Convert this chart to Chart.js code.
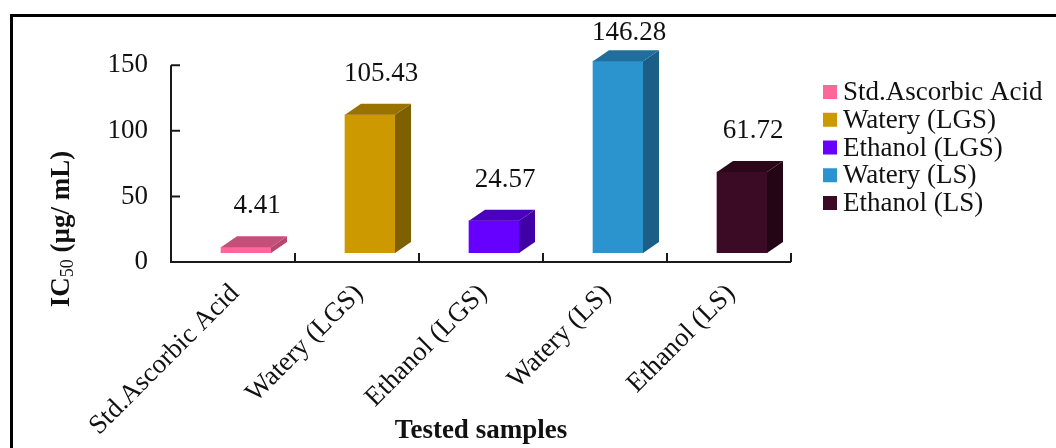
<!DOCTYPE html>
<html><head><meta charset="utf-8">
<script src="https://cdn.jsdelivr.net/npm/chart.js@4.4.0/dist/chart.umd.min.js"></script>
<style>html,body{margin:0;padding:0;background:#fff}#wrap{width:1056px;height:448px}</style>
</head><body><div id="wrap"><canvas id="c" width="1056" height="448"></canvas></div>
<script>
const categories = ['Std.Ascorbic Acid', 'Watery (LGS)', 'Ethanol (LGS)', 'Watery (LS)', 'Ethanol (LS)'];
const ic50Values = [4.41, 105.43, 24.57, 146.28, 61.72];
const yTickValues = [0, 50, 100, 150];
const frontColors = ['#FF6699', '#CC9900', '#6600FF', '#2B94CF', '#3B0A25'];
const sideColors  = ['#B8476E', '#7F6000', '#4000A6', '#1B5F86', '#240515'];
const topColors   = ['#C4507A', '#9A7200', '#4A00BC', '#1F6E9C', '#2C0719'];
const xTitle = 'Tested samples';
const serif = "'Liberation Serif', 'Times New Roman', serif";

const DX = 16, DY = 11, SHIFT_X = 13, SHIFT_Y = -9;

const frame = {
  id: 'frame',
  beforeDraw(chart) {
    const ctx = chart.ctx;
    ctx.save();
    ctx.fillStyle = '#fff';
    ctx.fillRect(0, 0, chart.width, chart.height);
    ctx.strokeStyle = '#000';
    ctx.lineWidth = 3;
    ctx.strokeRect(11.5, 15.5, 1200, 600);
    ctx.restore();
  }
};

const bars3d = {
  id: 'bars3d',
  beforeDatasetsDraw(chart) {
    chart.ctx.save();
    chart.ctx.translate(SHIFT_X, SHIFT_Y);
  },
  afterDatasetsDraw(chart) {
    const ctx = chart.ctx;
    const meta = chart.getDatasetMeta(0);
    meta.data.forEach((bar, i) => {
      const l = bar.x - bar.width / 2, r = bar.x + bar.width / 2;
      const t = bar.y, b = bar.base;
      ctx.fillStyle = sideColors[i];
      ctx.beginPath();
      ctx.moveTo(r, t); ctx.lineTo(r + DX, t - DY); ctx.lineTo(r + DX, b - DY); ctx.lineTo(r, b);
      ctx.closePath(); ctx.fill();
      ctx.fillStyle = topColors[i];
      ctx.beginPath();
      ctx.moveTo(l, t); ctx.lineTo(l + DX, t - DY); ctx.lineTo(r + DX, t - DY); ctx.lineTo(r, t);
      ctx.closePath(); ctx.fill();
    });
    ctx.restore();
    ctx.save();
    ctx.fillStyle = '#111';
    ctx.font = '27px ' + serif;
    ctx.textAlign = 'center';
    ctx.textBaseline = 'middle';
    meta.data.forEach((bar, i) => {
      const y = Math.max(bar.y + SHIFT_Y - 41, 33);
      ctx.fillText(ic50Values[i].toFixed(2), bar.x + SHIFT_X + 11, y);
    });
    ctx.restore();
  }
};

const axesPlugin = {
  id: 'axesPlugin',
  afterDraw(chart) {
    const ctx = chart.ctx;
    const xs = chart.scales.x, ys = chart.scales.y;
    const a = chart.chartArea;
    const y0 = ys.getPixelForValue(0);
    const yTop = ys.getPixelForValue(yTickValues[yTickValues.length - 1]);
    ctx.save();
    ctx.strokeStyle = '#1a1a1a';
    ctx.lineWidth = 2;
    ctx.beginPath();
    ctx.moveTo(a.left, yTop); ctx.lineTo(a.left, y0); ctx.lineTo(a.right, y0);
    yTickValues.forEach(v => {
      const y = ys.getPixelForValue(v);
      ctx.moveTo(a.left, y); ctx.lineTo(a.left + 9, y);
    });
    for (let i = 0; i < categories.length; i++) {
      const xb = i < categories.length - 1 ? (xs.getPixelForValue(i) + xs.getPixelForValue(i + 1)) / 2 : a.right;
      ctx.moveTo(xb, y0); ctx.lineTo(xb, y0 - 9);
    }
    ctx.stroke();

    // axis titles
    ctx.fillStyle = '#111';
    ctx.textBaseline = 'middle';
    ctx.textAlign = 'center';
    ctx.font = 'bold 27px ' + serif;
    ctx.fillText(xTitle, (a.left + a.right) / 2, 431);

    ctx.translate(62, 229);
    ctx.rotate(-Math.PI / 2);
    const fMain = 'bold 27px ' + serif, fSub = '18px ' + serif;
    const parts = [['IC', fMain, 0], ['50', fSub, 6], [' (\u00B5g/ mL)', fMain, 0]];
    let total = 0;
    parts.forEach(p => { ctx.font = p[1]; total += ctx.measureText(p[0]).width; });
    let x = -total / 2;
    ctx.textAlign = 'left';
    parts.forEach(p => { ctx.font = p[1]; ctx.fillText(p[0], x, p[2]); x += ctx.measureText(p[0]).width; });
    ctx.restore();

    // legend
    ctx.save();
    ctx.font = '27px ' + serif;
    ctx.textBaseline = 'middle';
    ctx.textAlign = 'left';
    categories.forEach((c, i) => {
      const cy = 92 + i * 27.75;
      ctx.fillStyle = frontColors[i];
      ctx.fillRect(823, cy - 7, 14, 14);
      ctx.fillStyle = '#111';
      ctx.fillText(c, 843, cy + 1);
    });
    ctx.restore();
  }
};

new Chart(document.getElementById('c'), {
  type: 'bar',
  data: {
    labels: categories,
    datasets: [{
      data: ic50Values,
      backgroundColor: frontColors,
      borderWidth: 0,
      barThickness: 50
    }]
  },
  options: {
    responsive: false,
    animation: false,
    devicePixelRatio: 1,
    layout: { padding: { left: 0, right: 265, top: 25, bottom: 0 } },
    plugins: { legend: { display: false }, tooltip: { enabled: false } },
    scales: {
      x: {
        grid: { display: false },
        border: { display: false },
        ticks: {
          font: { family: serif, size: 27 },
          color: '#111',
          minRotation: 45, maxRotation: 45,
          autoSkip: false,
          padding: 8,
          labelOffset: 2
        },
        afterFit(s) { s.height = 186; }
      },
      y: {
        min: 0, max: 176,
        grid: { display: false },
        border: { display: false },
        afterBuildTicks(s) { s.ticks = yTickValues.map(v => ({ value: v })); },
        ticks: { font: { family: serif, size: 27 }, color: '#111', padding: 15 },
        afterFit(s) { s.width = 171; }
      }
    }
  },
  plugins: [frame, bars3d, axesPlugin]
});
</script></body></html>
